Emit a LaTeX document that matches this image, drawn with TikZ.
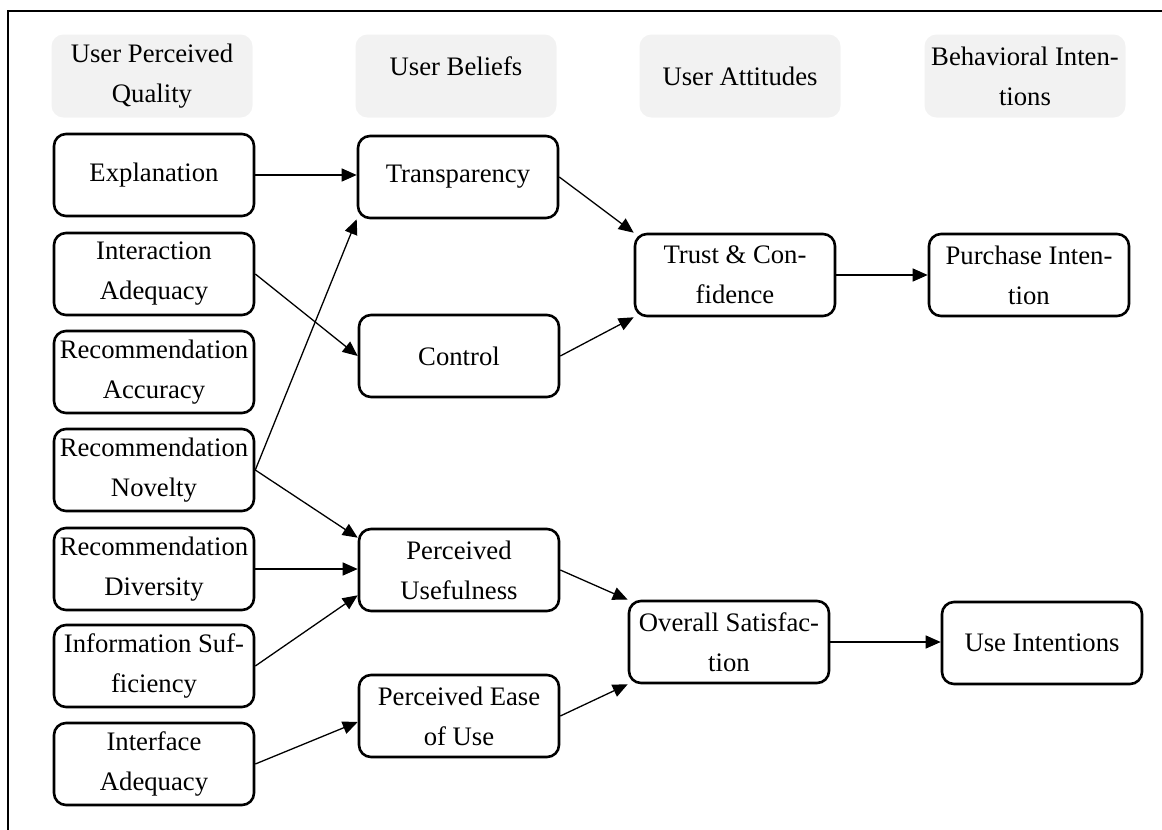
\documentclass[tikz,border=0pt]{standalone}
\usepackage{fontspec}
\setmainfont{Liberation Serif}
\usetikzlibrary{arrows.meta, positioning, calc}

\begin{document}
\begin{tikzpicture}[x=1pt, y=-1pt,
    every node/.style={align=center, font=\fontsize{26.7}{40}\selectfont},
    box/.style={draw, line width=2.6pt, rounded corners=12pt, minimum width=200pt, minimum height=82pt, inner sep=0pt},
    head/.style={fill=black!5, rounded corners=12pt, minimum width=201pt, minimum height=83pt, inner sep=0pt},
    link/.style={-{Triangle[length=15pt, width=13pt]}, line width=1.3pt}]
    \useasboundingbox (0,0) rectangle (1162,830);
    \draw[line width=2.4pt] (8,830) -- (8,11) -- (1162,11);

    \node[head] (hq) at (152,76) {User Perceived\\Quality};
    \node[head, text depth=20pt] (hb) at (456,76) {User Beliefs};
    \node[head] (ha) at (740,76) {User Attitudes};
    \node[head] (hi) at (1025,76) {Behavioral Inten-\\tions};

    \node[box] (expl) at (154,175) {Explanation};
    \node[box] (inter) at (154,274) {Interaction\\Adequacy};
    \node[box] (acc) at (154,372) {Recommendation\\Accuracy};
    \node[box] (nov) at (154,470) {Recommendation\\Novelty};
    \node[box] (div) at (154,569) {Recommendation\\Diversity};
    \node[box] (suff) at (154,666) {Information Suf-\\ficiency};
    \node[box] (iface) at (154,764) {Interface\\Adequacy};

    \node[box] (transp) at (458,177) {Transparency};
    \node[box] (ctrl) at (459,356) {Control};
    \node[box] (useful) at (459,570) {Perceived\\Usefulness};
    \node[box] (ease) at (459,716) {Perceived Ease\\of Use};

    \node[box] (trust) at (735,275) {Trust \& Con-\\fidence};
    \node[box] (satis) at (729,642) {Overall Satisfac-\\tion};

    \node[box] (purch) at (1029,275) {Purchase Inten-\\tion};
    \node[box] (useint) at (1042,643) {Use Intentions};

    \draw[link] (expl.east) -- (expl.east -| transp.west);
    \draw[link] (inter.east) -- (ctrl.west);
    \draw[link] (nov.east) -- (transp.south west);
    \draw[link] (nov.east) -- ([yshift=-10pt]useful.north west);
    \draw[link] (div.east) -- (div.east -| useful.west);
    \draw[link] (suff.east) -- ([yshift=17pt]useful.south west);
    \draw[link] (iface.east) -- ([yshift=-6pt]ease.west);
    \draw[link] (transp.east) -- (trust.north west);
    \draw[link] (ctrl.east) -- (trust.south west);
    \draw[link] (trust.east) -- (trust.east -| purch.west);
    \draw[link] (useful.east) -- (satis.north west);
    \draw[link] (ease.east) -- (satis.south west);
    \draw[link] (satis.east) -- (satis.east -| useint.west);
\end{tikzpicture}
\end{document}
